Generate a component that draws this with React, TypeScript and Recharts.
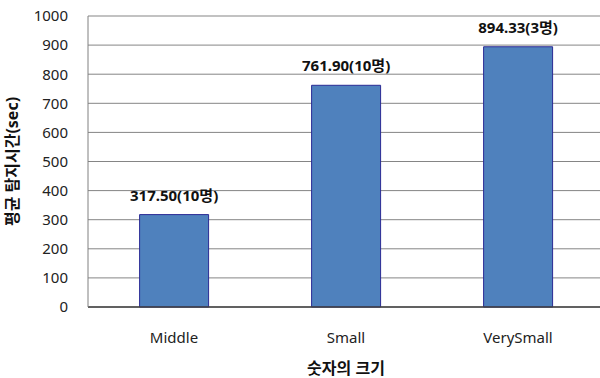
import React from 'react';
import { BarChart, Bar, XAxis, YAxis, CartesianGrid, LabelList } from 'recharts';

const sizes = ['Middle', 'Small', 'VerySmall'];
const avgTimes = [317.5, 761.9, 894.33];
const subjects = [10, 10, 3];
const yTicks = [0, 100, 200, 300, 400, 500, 600, 700, 800, 900, 1000];

const data = sizes.map((size, i) => ({
    size,
    time: avgTimes[i],
    count: subjects[i],
}));

const FONT = '"Noto Sans", "Noto Sans CJK KR", sans-serif';

export default function App() {
    return (
        <div style={{ position: 'fixed', left: 0, top: 0, width: 600, height: 378, overflow: 'hidden', background: '#fff' }}>
            <BarChart
                width={610}
                height={378}
                data={data}
                margin={{ top: 16, right: 6, left: 0, bottom: 0 }}
                barCategoryGap="30%"
                style={{ fontFamily: FONT }}
            >
                <CartesianGrid stroke="#858585" vertical={false} />
                <XAxis
                    dataKey="size"
                    height={71}
                    axisLine={{ stroke: '#404040', strokeWidth: 1.5 }}
                    tickLine={false}
                    tickSize={6}
                    tickMargin={19}
                    tick={{ fill: '#222', fontSize: 15 }}
                    label={{
                        value: '숫자의 크기',
                        position: 'insideBottom',
                        offset: 4,
                        style: { fill: '#111', fontSize: 16, fontWeight: 700 },
                    }}
                />
                <YAxis
                    width={88}
                    domain={[0, 1000]}
                    ticks={yTicks}
                    interval={0}
                    axisLine={{ stroke: '#808080' }}
                    tickLine={false}
                    tickSize={6}
                    tickMargin={14}
                    tick={{ fill: '#222', fontSize: 15 }}
                    label={{
                        value: '평균 탐지시간(sec)',
                        angle: -90,
                        position: 'insideLeft',
                        offset: 12,
                        style: { textAnchor: 'middle', fill: '#111', fontSize: 16, fontWeight: 700 },
                    }}
                />
                <Bar dataKey="time" fill="#4F81BD" stroke="#2B2B94" strokeWidth={1} isAnimationActive={false}>
                    <LabelList
                        dataKey="time"
                        position="top"
                        content={(props: any) => {
                            const { x, y, width, index } = props;
                            const d = data[index];
                            return (
                                <text
                                    x={x + width / 2}
                                    y={y - 14}
                                    textAnchor="middle"
                                    fill="#111"
                                    fontSize={15}
                                    fontWeight={700}
                                >
                                    {`${d.time.toFixed(2)}(${d.count}명)`}
                                </text>
                            );
                        }}
                    />
                </Bar>
            </BarChart>
        </div>
    );
}
